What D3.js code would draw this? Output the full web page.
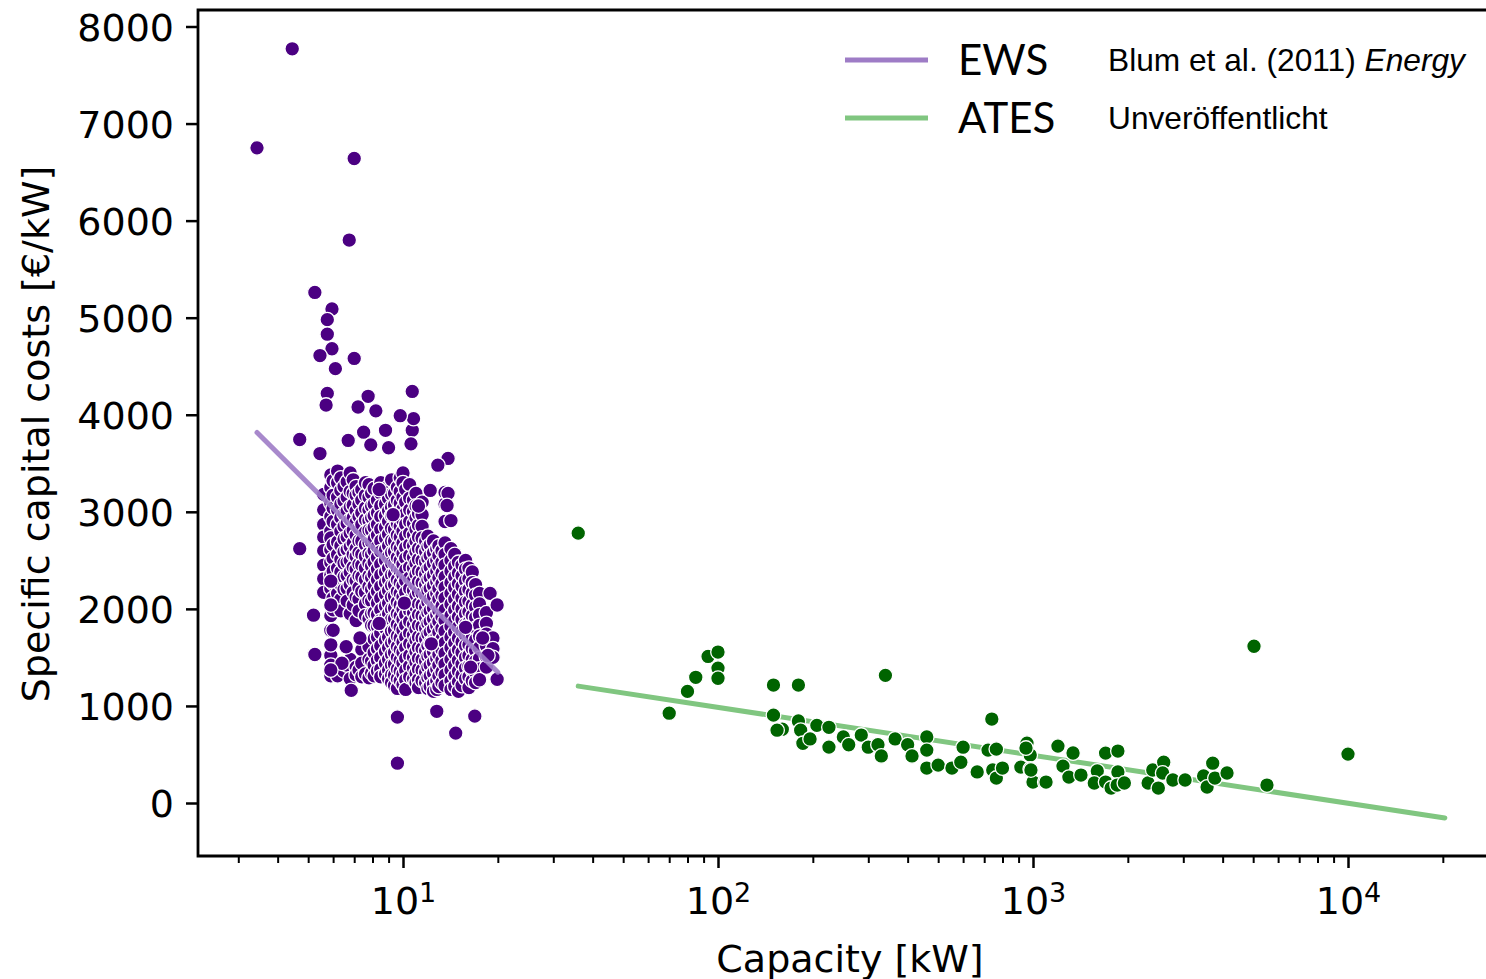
<!DOCTYPE html>
<html>
<head>
<meta charset="utf-8">
<script src="https://cdn.jsdelivr.net/npm/d3@7"></script>
<style>
  body { margin: 0; background: #fff; }
  svg text { font-family: "DejaVu Sans", sans-serif; fill: #000; }
</style>
</head>
<body>
<svg id="chart"></svg>
<script>
// ---- data ----
// EWS (Blum et al. 2011): dense cloud, grouped by capacity column [kW]
var ewsColumns = [
  [5.6,  [3180, 3020, 2870, 2740, 2600, 2450, 2310, 2170]],
  [5.9,  [3380, 3250, 3090, 2950, 2800, 2730, 2610, 2480, 2350, 2210, 2040, 1930, 1780, 1630, 1520, 1420, 1370, 1310]],
  [6.0,  [3320, 3170, 3040, 2900, 2660, 2520, 2390, 2260, 2110, 1990]],
  [6.2,  [3420, 3300, 3150, 3020, 2870, 2690, 2560, 2420, 2300, 2160, 1310]],
  [6.35, [3350, 3220, 3080, 2940, 2800, 2650, 2510, 2380, 2250, 2100, 1980]],
  [6.5,  [3260, 3110, 2980, 2850, 2720, 2590, 2470, 2330, 2200, 1440, 1360]],
  [6.65, [3310, 3150, 3010, 2880, 2740, 2610, 2480, 2340, 2210, 2080, 1420]],
  [6.8,  [3400, 3210, 3050, 2920, 2780, 2640, 2500, 2380, 2250, 1950, 1480, 1280]],
  [6.95, [3330, 3190, 3070, 2940, 2810, 2680, 2560, 2430, 2300, 2170, 2040]],
  [7.1,  [3260, 3170, 3010, 2890, 2760, 2620, 2540, 2410, 2290, 2120, 1880, 1400, 1320]],
  [7.25, [3200, 3080, 2950, 2830, 2700, 2580, 2460, 2340, 2220, 2100, 1980, 1370]],
  [7.4,  [3230, 3120, 2990, 2870, 2700, 2560, 2450, 2330, 2180, 1580, 1440, 1300]],
  [7.6,  [3300, 3170, 3040, 2920, 2790, 2660, 2540, 2420, 2300, 2170, 2050, 1930, 1330]],
  [7.8,  [3280, 3150, 3020, 2910, 2810, 2680, 2570, 2470, 2340, 2230, 2090, 1900, 1610, 1480, 1290]],
  [7.95, [3190, 3060, 2940, 2810, 2690, 2560, 2440, 2320, 2200, 2080, 1950, 1830, 1460, 1340]],
  [8.1,  [3240, 3080, 2960, 2840, 2720, 2600, 2480, 2360, 2240, 2130, 1960, 1830, 1690, 1550, 1420, 1310]],
  [8.3,  [3120, 2990, 2870, 2760, 2640, 2530, 2410, 2300, 2180, 2060, 1940, 1820, 1710, 1590, 1470, 1360]],
  [8.5,  [3300, 3190, 3060, 2950, 2820, 2700, 2590, 2460, 2350, 2230, 2110, 1990, 1880, 1750, 1620, 1500, 1380, 1300]],
  [8.8,  [3210, 3080, 2960, 2840, 2730, 2610, 2500, 2380, 2270, 2150, 2030, 1910, 1800, 1680, 1560, 1440, 1330]],
  [9.0,  [3260, 3140, 3010, 2900, 2770, 2650, 2540, 2420, 2300, 2190, 2060, 1950, 1830, 1710, 1600, 1480, 1370, 1280]],
  [9.2,  [3330, 3180, 3050, 2960, 2830, 2700, 2580, 2470, 2350, 2240, 2120, 2000, 1890, 1770, 1650, 1530, 1420, 1320, 1240]],
  [9.4,  [3190, 3070, 2940, 2820, 2700, 2590, 2470, 2360, 2250, 2130, 2010, 1900, 1780, 1670, 1550, 1430, 1320, 1210]],
  [9.6,  [3250, 3120, 3000, 2880, 2760, 2640, 2530, 2420, 2300, 2180, 2070, 1950, 1840, 1720, 1610, 1500, 1380, 1280, 1180]],
  [9.8,  [3350, 3210, 3090, 2970, 2850, 2740, 2620, 2500, 2390, 2270, 2160, 2040, 1930, 1810, 1700, 1580, 1470, 1360, 1260]],
  [10.0, [3400, 3300, 3150, 3030, 2910, 2800, 2680, 2570, 2460, 2350, 2240, 2120, 2000, 1890, 1780, 1660, 1550, 1440, 1330, 1220]],
  [10.2, [3230, 3100, 2980, 2870, 2750, 2630, 2520, 2400, 2290, 2170, 2060, 1940, 1830, 1710, 1600, 1490, 1370, 1270, 1170]],
  [10.5, [3280, 3140, 3020, 2900, 2780, 2660, 2550, 2430, 2320, 2210, 2090, 1980, 1870, 1750, 1640, 1520, 1410, 1300]],
  [10.8, [3120, 3000, 2880, 2760, 2650, 2530, 2420, 2300, 2190, 2070, 1960, 1840, 1730, 1620, 1500, 1390, 1280]],
  [11.0, [3190, 3060, 2940, 2820, 2700, 2590, 2470, 2360, 2240, 2130, 2020, 1900, 1790, 1680, 1560, 1450, 1340, 1240]],
  [11.2, [2980, 2860, 2740, 2620, 2510, 2390, 2280, 2170, 2050, 1940, 1830, 1710, 1600, 1490, 1380, 1270, 1190]],
  [11.5, [3100, 2970, 2850, 2730, 2610, 2500, 2380, 2270, 2160, 2040, 1930, 1820, 1700, 1590, 1480, 1370, 1260]],
  [11.8, [2700, 2590, 2480, 2360, 2250, 2140, 2020, 1910, 1800, 1690, 1570, 1460, 1350, 1240]],
  [12.0, [2750, 2640, 2520, 2410, 2300, 2190, 2070, 1960, 1850, 1740, 1620, 1510, 1400, 1290, 1180]],
  [12.2, [2660, 2550, 2430, 2320, 2210, 2100, 1980, 1870, 1760, 1650, 1530, 1420, 1310, 1200]],
  [12.5, [2700, 2580, 2470, 2350, 2240, 2130, 2010, 1900, 1790, 1680, 1560, 1450, 1340, 1230, 1150]],
  [12.8, [2620, 2500, 2390, 2280, 2160, 2050, 1940, 1830, 1710, 1600, 1490, 1380, 1260, 1170]],
  [13.0, [2650, 2550, 2440, 2320, 2210, 2100, 1980, 1870, 1760, 1640, 1530, 1420, 1310, 1200]],
  [13.3, [2600, 2480, 2370, 2260, 2140, 2030, 1920, 1800, 1690, 1580, 1470, 1350, 1240]],
  [13.6, [3200, 3080, 2900, 2680, 2560, 2450, 2330, 2220, 2110, 1990, 1880, 1770, 1650, 1540, 1430, 1320, 1210]],
  [14.2, [2620, 2500, 2390, 2270, 2160, 2050, 1930, 1820, 1710, 1600, 1480, 1370, 1260, 1170]],
  [14.6, [2560, 2440, 2330, 2220, 2100, 1990, 1880, 1760, 1650, 1540, 1420, 1310, 1200]],
  [15.0, [2480, 2370, 2260, 2150, 2030, 1920, 1810, 1700, 1580, 1470, 1360, 1250, 1150]],
  [15.4, [2450, 2340, 2230, 2110, 2000, 1890, 1770, 1660, 1550, 1430, 1320, 1210]],
  [15.8, [2500, 2410, 2290, 2180, 2070, 1950, 1840, 1730, 1620, 1500, 1390, 1280]],
  [16.2, [2420, 2310, 2200, 2080, 1970, 1860, 1740, 1630, 1520, 1410, 1300, 1190]],
  [16.6, [2380, 2270, 2160, 2040, 1930, 1820, 1710, 1590, 1480, 1370, 1260]],
  [17.0, [2250, 2140, 2020, 1910, 1800, 1680, 1570, 1460, 1350, 1240]],
  [17.5, [2160, 2050, 1940, 1830, 1720, 1600, 1490, 1380, 1270]],
  [18.4, [1960, 1850, 1740, 1620, 1510, 1400]],
  [19.3, [1700, 1590, 1500]]
];

// EWS single points that stand out of the cloud [kW, €/kW]
var ewsOutliers = [
  [3.44, 6750], [4.45, 7770], [7.0, 6640], [6.75, 5800], [5.25, 5260],
  [5.95, 5090], [5.75, 4980], [5.75, 4830], [5.95, 4680], [5.45, 4610],
  [7.0, 4580], [6.1, 4475], [10.7, 4240], [7.75, 4190], [5.75, 4220],
  [5.7, 4100], [4.7, 3745], [5.45, 3600], [4.7, 2620], [5.25, 1530],
  [6.85, 1160], [9.6, 885], [9.6, 410], [12.8, 945], [14.7, 720],
  [16.9, 895], [19.9, 1275], [18.9, 2160], [19.9, 2040], [13.9, 3550],
  [12.9, 3480], [10.7, 3840], [10.8, 3960], [9.8, 3990], [8.8, 3840],
  [8.2, 4040], [7.2, 4080], [6.7, 3735], [7.5, 3820], [7.9, 3690],
  [9.0, 3660], [10.6, 3700], [12.2, 3220], [13.9, 3190], [13.8, 3065],
  [14.2, 2910], [10.1, 2060], [15.8, 1810], [6.4, 1440], [6.0, 1780],
  [5.9, 1630], [5.9, 1370], [5.9, 2040], [5.9, 2285], [5.2, 1935],
  [8.4, 3230], [9.3, 2970], [17.9, 1700], [18.6, 1520], [16.4, 1400],
  [12.3, 1640], [8.4, 1850], [11.2, 3060], [7.3, 1700], [6.6, 1610]
];

// ATES (unpublished) [kW, €/kW]
var atesPoints = [
  [36, 2780], [70, 925], [80, 1150], [85, 1295], [93, 1510], [100, 1555],
  [100, 1390], [100, 1285], [150, 1215], [180, 1215], [150, 905], [160, 760],
  [154, 750], [180, 845], [183, 750], [186, 615], [196, 660], [206, 800],
  [225, 780], [225, 576], [250, 680], [260, 600], [285, 700], [300, 575],
  [322, 600], [330, 485], [340, 1315], [365, 660], [400, 600], [413, 485],
  [460, 680], [460, 545], [460, 360], [500, 390], [553, 360], [600, 575],
  [590, 420], [665, 320], [740, 865], [720, 545], [765, 555], [745, 340],
  [765, 257], [800, 360], [915, 370], [957, 617], [980, 494], [980, 350],
  [1000, 216], [1090, 216], [950, 566], [985, 340], [1100, 216], [1200, 586],
  [1245, 380], [1300, 267], [1340, 515], [1420, 288], [1600, 330], [1700, 514],
  [1565, 206], [1700, 216], [1860, 535], [1860, 320], [1770, 154], [1850, 185],
  [1950, 206], [2320, 206], [2400, 340], [2600, 420], [2580, 309], [2500, 154],
  [2780, 237], [3040, 237], [3480, 278], [3570, 165], [3720, 410], [3780, 257],
  [4130, 309], [5030, 1615], [5530, 185], [10000, 504]
];

// fitted trend lines (endpoints) [kW, €/kW]
var ewsFit = [[3.44, 3817], [20, 1348]];
var atesFit = [[36, 1204], [20300, -154]];

var yTicks = [0, 1000, 2000, 3000, 4000, 5000, 6000, 7000, 8000];
var xMajor = [10, 100, 1000, 10000];
var xExp = ["1", "2", "3", "4"];

var legendNames = ["EWS", "ATES"];
var legendSources = ["Blum et al. (2011) ", "Unveröffentlicht"];

// ---- setup ----
var W = 1486, H = 979;
var padLeft = 198, padTop = 10, padBottom = 856, padRight = 1520;

var svg = d3.select('#chart').attr('width', W).attr('height', H);

var x = d3.scaleLog().domain([10, 10000]).range([403, 1348]);
var y = d3.scaleLinear().domain([0, 8000]).range([803, 26.5]);

var purple = '#4b0082', green = '#006400';
var purpleLine = '#9e7cc6', greenLine = '#80c680';

// flatten EWS columns
var ewsPoints = [];
ewsColumns.forEach(function(c) {
  c[1].forEach(function(v) { ewsPoints.push([c[0], v]); });
});
ewsPoints = ewsPoints.concat(ewsOutliers);

var line = d3.line()
  .x(function(d) { return x(d[0]); })
  .y(function(d) { return y(d[1]); });

// ATES trend line (under its points)
svg.append('path')
  .datum(atesFit)
  .attr('d', line)
  .attr('fill', 'none')
  .attr('stroke', greenLine)
  .attr('stroke-width', 5)
  .attr('stroke-linecap', 'round');

// scatter
svg.append('g').selectAll('circle')
  .data(ewsPoints)
  .enter()
  .append('circle')
  .attr('cx', function(d) { return x(d[0]); })
  .attr('cy', function(d) { return y(d[1]); })
  .attr('r', 7.3)
  .attr('fill', purple)
  .attr('stroke', '#fff')
  .attr('stroke-width', 1.3);

svg.append('g').selectAll('circle')
  .data(atesPoints)
  .enter()
  .append('circle')
  .attr('cx', function(d) { return x(d[0]); })
  .attr('cy', function(d) { return y(d[1]); })
  .attr('r', 7.3)
  .attr('fill', green)
  .attr('stroke', '#fff')
  .attr('stroke-width', 1.3);

// EWS trend line (drawn over the cloud)
svg.append('path')
  .datum(ewsFit)
  .attr('d', line)
  .attr('fill', 'none')
  .attr('stroke', purpleLine)
  .attr('stroke-opacity', 0.9)
  .attr('stroke-width', 5)
  .attr('stroke-linecap', 'round');

// ---- axes ----
var yAxis = svg.append('g')
  .attr('transform', 'translate(' + padLeft + ',0)')
  .call(d3.axisLeft(y).tickValues(yTicks).tickSize(12).tickPadding(12).tickFormat(d3.format('d')));
yAxis.select('.domain').remove();
yAxis.selectAll('.tick line').attr('stroke', '#000').attr('stroke-width', 2.5);
yAxis.selectAll('.tick text').style('font-size', '38px').attr('dy', '0.36em');

var minor = x.copy().domain([2.3, 25000]).ticks()
  .filter(function(v) { return xMajor.indexOf(v) < 0; });

var xMinorAxis = svg.append('g')
  .attr('transform', 'translate(0,' + padBottom + ')')
  .call(d3.axisBottom(x).tickValues(minor).tickSize(7).tickFormat(''));
xMinorAxis.select('.domain').remove();
xMinorAxis.selectAll('.tick line').attr('stroke', '#000').attr('stroke-width', 2);

var xAxis = svg.append('g')
  .attr('transform', 'translate(0,' + padBottom + ')')
  .call(d3.axisBottom(x).tickValues(xMajor).tickSize(12).tickFormat(''));
xAxis.select('.domain').remove();
xAxis.selectAll('.tick line').attr('stroke', '#000').attr('stroke-width', 2.5);

xAxis.selectAll('.tick').each(function(d, i) {
  var t = d3.select(this).append('text')
    .attr('y', 58)
    .attr('text-anchor', 'middle')
    .style('font-size', '38px');
  t.append('tspan').text('10');
  t.append('tspan').attr('dy', '-0.45em').style('font-size', '27px').text(xExp[i]);
});

// spines
svg.append('path')
  .attr('d', 'M' + padRight + ',' + padTop + 'H' + padLeft + 'V' + padBottom + 'H' + padRight)
  .attr('fill', 'none')
  .attr('stroke', '#000')
  .attr('stroke-width', 2.8);

// axis titles
svg.append('text')
  .attr('x', 850)
  .attr('y', 972)
  .attr('text-anchor', 'middle')
  .style('font-size', '38px')
  .text('Capacity [kW]');

svg.append('text')
  .attr('transform', 'translate(49,434) rotate(-90)')
  .attr('text-anchor', 'middle')
  .style('font-size', '38px')
  .text('Specific capital costs [€/kW]');

// ---- legend ----
var legend = svg.append('g');
var legendColors = [purpleLine, greenLine];
legendNames.forEach(function(name, i) {
  var ly = 60 + i * 58;
  legend.append('line')
    .attr('x1', 845).attr('x2', 928)
    .attr('y1', ly).attr('y2', ly)
    .attr('stroke', legendColors[i])
    .attr('stroke-width', 5);
  legend.append('text')
    .attr('x', 958).attr('y', ly + 15)
    .style('font-family', 'Lato, "Open Sans", sans-serif')
    .style('font-size', '42px')
    .text(name);
  var src = legend.append('text')
    .attr('x', 1108).attr('y', ly + 11)
    .style('font-family', '"Liberation Sans", Arial, sans-serif')
    .style('font-size', '31.7px');
  src.append('tspan').text(legendSources[i]);
  if (i === 0) src.append('tspan').style('font-style', 'italic').text('Energy');
});
</script>
</body>
</html>
